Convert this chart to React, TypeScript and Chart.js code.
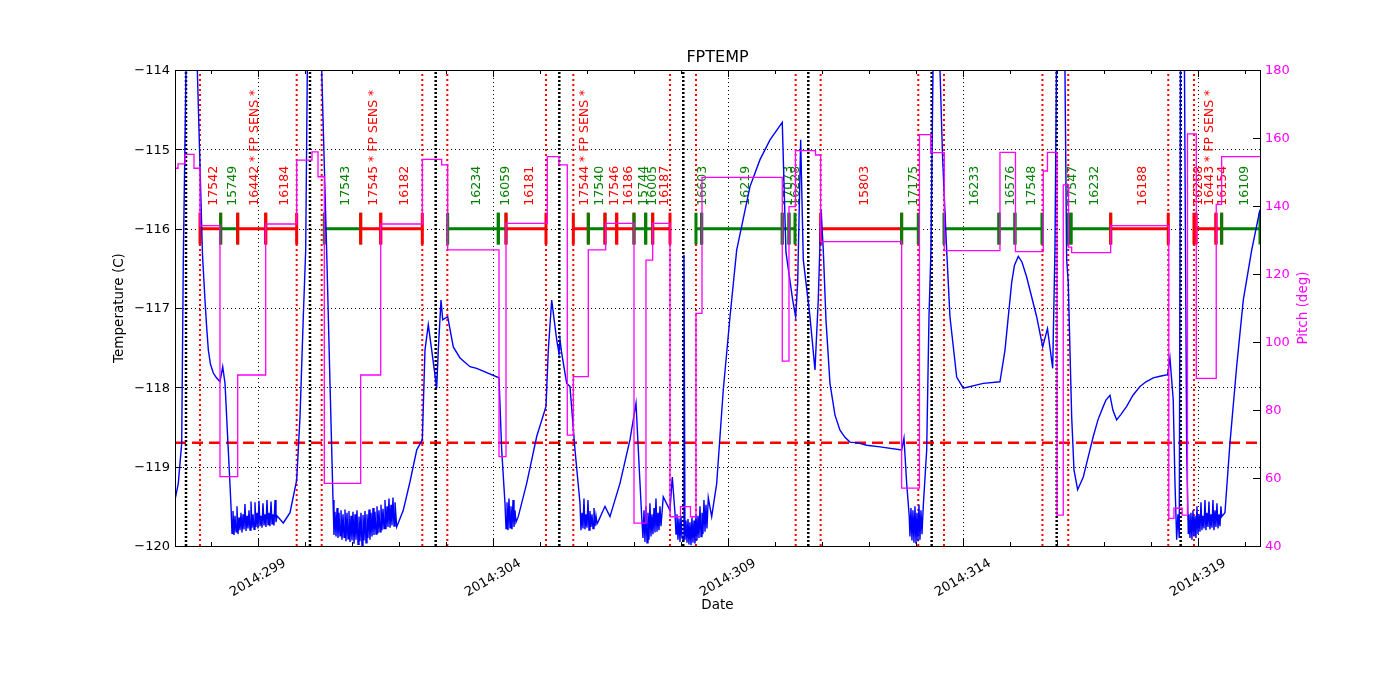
import { useEffect, useRef } from 'react';
import { Chart, registerables } from 'chart.js';
Chart.register(...registerables);

// ---- axis ranges & ticks ----
const dayMin = 297.234;
const dayMax = 320.32;
const tempMin = -120;
const tempMax = -114;
const pitchMin = 40;
const pitchMax = 180;
const tempTicks = [-120, -119, -118, -117, -116, -115, -114];
const pitchTicks = [40, 60, 80, 100, 120, 140, 160, 180];
const dateMajorTicks = [299, 304, 309, 314, 319];
const dateMinorTicks = [298, 299, 300, 301, 302, 303, 304, 305, 306, 307, 308, 309, 310, 311, 312, 313, 314, 315, 316, 317, 318, 319, 320];
const dateYear = '2014';
const planningLimit = -118.7;

// ---- radiation zone markers (day of year) ----
const radBoundaryDays = [297.766, 299.823, 300.355, 302.496, 303.028, 305.128, 305.709, 307.766, 308.319, 310.44, 310.972, 313.049, 313.596, 315.691, 316.24, 318.368, 318.915];
const perigeeDays = [297.468, 300.106, 302.781, 305.411, 308.049, 310.709, 313.334, 315.994, 318.632];

// ---- observations ----
const obsStart = [297.766, 298.206, 298.568, 299.164, 300.411, 301.185, 301.611, 303.036, 304.113, 304.277, 305.709, 306.028, 306.383, 306.632, 307.0, 307.249, 307.398, 308.319, 308.44, 310.155, 310.298, 310.972, 312.695, 313.596, 314.766, 315.106, 316.245, 316.298, 317.143, 318.915, 318.957, 319.383, 319.504];
const obsEnd = [298.206, 298.568, 299.164, 299.823, 301.185, 301.611, 302.496, 304.113, 304.277, 305.128, 306.028, 306.383, 306.632, 307.0, 307.249, 307.398, 307.766, 308.44, 310.155, 310.298, 310.426, 312.695, 313.049, 314.766, 315.106, 315.681, 316.298, 317.143, 318.368, 318.957, 319.383, 319.504, 320.32];
const obsLabels = ['17542', '15749', '16442 * FP SENS *', '16184', '17543', '17545 * FP SENS *', '16182', '16234', '16059', '16181', '17544 * FP SENS *', '17540', '17546', '16186', '15744', '16005', '16187', '16603', '16219', '17073', '16228', '15803', '17175', '16233', '16576', '17548', '17547', '16232', '16188', '16268', '16443 * FP SENS *', '16154', '16109'];
const obsHot = [1, 0, 1, 1, 0, 1, 1, 0, 0, 1, 1, 0, 1, 1, 0, 0, 1, 0, 0, 0, 0, 1, 0, 0, 0, 0, 0, 0, 1, 1, 1, 1, 0];
const obsLevel = -116;

// ---- pitch (deg), step changes ----
const pitchDays = [297.234, 297.298, 297.447, 297.638, 297.766, 298.191, 298.568, 299.164, 299.823, 300.149, 300.277, 300.411, 301.185, 301.611, 302.496, 302.908, 303.036, 304.128, 304.277, 305.155, 305.404, 305.581, 305.709, 306.028, 306.398, 307.0, 307.255, 307.398, 307.766, 307.989, 308.202, 308.319, 308.447, 310.155, 310.298, 310.436, 310.862, 310.972, 312.695, 313.074, 313.313, 313.602, 314.787, 315.117, 315.708, 315.798, 316.0, 316.134, 316.245, 316.313, 317.143, 318.379, 318.489, 318.664, 318.777, 318.964, 319.389, 319.504, 320.32];
const pitchValues = [151.1, 152.4, 155.2, 151.1, 134.2, 60.4, 90.3, 134.7, 153.5, 155.9, 148.6, 58.4, 90.3, 134.7, 153.7, 152.1, 127.1, 66.3, 134.9, 154.5, 152.1, 72.6, 89.8, 127.1, 134.9, 46.7, 124.1, 134.9, 48.6, 51.6, 48.6, 108.4, 148.4, 94.4, 139.8, 156.3, 155.0, 129.5, 57.0, 161.0, 155.7, 126.9, 155.8, 126.6, 150.3, 155.8, 49.1, 146.2, 127.9, 126.3, 134.2, 48.1, 51.1, 49.1, 161.2, 89.3, 140.5, 154.5, 154.5];

// ---- FPTEMP readings [day, degC] ----
const fptempReadings: [number, number][] = [
  [297.234, -119.42], [297.304, -119.21], [297.377, -118.7], [297.411, -116.39], [297.468, -114.0], [297.553, -113.3], [297.66, -113.6], [297.709, -114.0], [297.819, -116.33], [297.872, -116.9],
  [297.904, -117.21], [297.943, -117.53], [297.989, -117.71], [298.049, -117.82], [298.117, -117.88], [298.191, -117.93], [298.249, -117.74], [298.298, -117.95], [298.368, -118.79], [298.426, -119.5],
  [298.447, -119.84], [298.468, -119.56], [298.489, -119.86], [298.511, -119.62], [298.532, -119.82], [298.553, -119.5], [298.574, -119.85], [298.596, -119.64], [298.617, -119.8], [298.638, -119.58],
  [298.66, -119.83], [298.681, -119.6], [298.702, -119.79], [298.723, -119.47], [298.745, -119.81], [298.766, -119.62], [298.787, -119.78], [298.809, -119.55], [298.83, -119.8], [298.851, -119.44],
  [298.872, -119.77], [298.894, -119.6], [298.915, -119.79], [298.936, -119.45], [298.957, -119.76], [298.979, -119.58], [299.0, -119.78], [299.021, -119.43], [299.043, -119.75], [299.064, -119.62],
  [299.085, -119.77], [299.106, -119.46], [299.128, -119.74], [299.149, -119.6], [299.17, -119.76], [299.191, -119.42], [299.213, -119.73], [299.234, -119.58], [299.255, -119.75], [299.277, -119.44],
  [299.298, -119.72], [299.319, -119.6], [299.34, -119.74], [299.362, -119.42], [299.383, -119.7], [299.404, -119.62],
  [299.538, -119.71], [299.681, -119.58], [299.823, -119.17], [299.894, -118.37], [299.964, -117.11], [300.015, -116.27], [300.049, -114.0], [300.085, -113.5], [300.319, -113.5], [300.355, -114.0], [300.462, -116.3], [300.532, -117.95], [300.596, -119.42],
  [300.617, -119.86], [300.638, -119.57], [300.66, -119.88], [300.681, -119.52], [300.702, -119.9], [300.723, -119.58], [300.745, -119.87], [300.766, -119.55], [300.787, -119.92], [300.809, -119.6],
  [300.83, -119.89], [300.851, -119.54], [300.872, -119.94], [300.894, -119.58], [300.915, -119.91], [300.936, -119.56], [300.957, -119.95], [300.979, -119.62], [301.0, -119.93], [301.021, -119.57],
  [301.043, -119.97], [301.064, -119.6], [301.085, -119.92], [301.106, -119.55], [301.128, -119.98], [301.149, -119.63], [301.17, -119.94], [301.191, -119.58], [301.213, -119.99], [301.234, -119.61],
  [301.255, -119.93], [301.277, -119.56], [301.298, -119.96], [301.319, -119.6], [301.34, -119.9], [301.362, -119.54], [301.383, -119.92], [301.404, -119.58], [301.426, -119.88], [301.447, -119.52],
  [301.468, -119.86], [301.489, -119.57], [301.511, -119.85], [301.532, -119.5], [301.553, -119.84], [301.574, -119.55], [301.596, -119.82], [301.617, -119.48], [301.638, -119.8], [301.66, -119.53],
  [301.681, -119.78], [301.702, -119.42], [301.723, -119.79], [301.745, -119.5], [301.766, -119.76], [301.787, -119.4], [301.809, -119.77], [301.83, -119.48], [301.851, -119.74], [301.872, -119.39],
  [301.894, -119.75], [301.915, -119.45],
  [301.951, -119.76], [302.091, -119.55], [302.234, -119.19], [302.377, -118.79], [302.496, -118.66], [302.553, -117.53], [302.623, -117.21], [302.696, -117.53], [302.802, -118.01], [302.836, -117.53],
  [302.894, -116.9], [302.93, -117.15], [303.036, -117.11], [303.155, -117.49], [303.298, -117.63], [303.511, -117.74], [303.653, -117.76], [304.128, -117.88], [304.185, -118.79], [304.255, -119.46],
  [304.277, -119.78], [304.298, -119.45], [304.319, -119.8], [304.34, -119.4], [304.362, -119.77], [304.383, -119.5], [304.404, -119.79], [304.426, -119.42], [304.447, -119.76], [304.468, -119.55], [304.489, -119.7],
  [304.538, -119.63], [304.717, -119.21], [304.93, -118.62], [305.128, -118.24], [305.177, -117.53], [305.249, -116.9], [305.355, -117.4], [305.404, -117.57], [305.426, -117.4], [305.462, -117.57],
  [305.568, -117.95], [305.638, -117.99], [305.745, -118.79], [305.851, -119.46],
  [305.872, -119.8], [305.894, -119.58], [305.915, -119.78], [305.936, -119.4], [305.957, -119.79], [305.979, -119.6], [306.0, -119.77], [306.021, -119.42], [306.043, -119.8], [306.064, -119.56],
  [306.085, -119.76], [306.106, -119.6], [306.128, -119.78], [306.149, -119.52], [306.17, -119.75], [306.191, -119.62], [306.213, -119.72],
  [306.24, -119.69], [306.383, -119.5], [306.489, -119.63], [306.702, -119.21], [306.915, -118.66], [307.043, -118.2], [307.128, -119.21], [307.164, -119.63],
  [307.191, -119.9], [307.213, -119.55], [307.234, -119.95], [307.255, -119.5], [307.277, -119.96], [307.298, -119.58], [307.319, -119.92], [307.34, -119.46], [307.362, -119.88], [307.383, -119.6],
  [307.404, -119.85], [307.426, -119.52], [307.447, -119.83], [307.468, -119.4], [307.489, -119.82], [307.511, -119.58], [307.532, -119.8], [307.553, -119.5], [307.574, -119.75],
  [307.623, -119.38], [307.766, -119.55], [307.815, -119.13], [307.872, -119.58],
  [307.894, -119.85], [307.915, -119.6], [307.936, -119.92], [307.957, -119.65], [307.979, -119.95], [308.0, -119.62], [308.021, -119.9],
  [308.049, -119.92], [308.064, -116.33], [308.085, -119.92],
  [308.106, -119.68], [308.128, -119.96], [308.149, -119.66], [308.17, -119.98], [308.191, -119.7], [308.213, -119.99], [308.234, -119.64], [308.255, -119.96], [308.277, -119.68], [308.298, -119.97],
  [308.319, -119.6], [308.34, -119.93], [308.362, -119.62], [308.383, -119.9], [308.404, -119.5], [308.426, -119.88], [308.447, -119.58], [308.468, -119.85], [308.489, -119.42], [308.511, -119.82],
  [308.532, -119.48], [308.553, -119.78],
  [308.581, -119.39], [308.653, -119.63], [308.76, -119.21], [308.9, -118.03], [309.043, -117.11], [309.185, -116.27], [309.468, -115.47], [309.681, -115.13], [309.894, -114.88], [310.155, -114.66],
  [310.234, -116.3], [310.377, -116.9], [310.44, -117.11], [310.483, -116.68], [310.547, -114.88], [310.602, -116.39], [310.745, -117.11], [310.851, -117.78], [310.921, -116.9], [310.979, -115.76],
  [311.028, -116.27], [311.085, -117.15], [311.17, -117.95], [311.277, -118.35], [311.383, -118.54], [311.489, -118.63], [311.596, -118.69], [311.766, -118.7], [311.951, -118.73], [312.234, -118.75],
  [312.696, -118.79], [312.745, -118.64], [312.802, -119.21], [312.857, -119.63],
  [312.872, -119.88], [312.894, -119.52], [312.915, -119.93], [312.936, -119.55], [312.957, -119.96], [312.979, -119.5], [313.0, -119.97], [313.021, -119.58], [313.043, -119.94], [313.064, -119.48],
  [313.085, -119.92], [313.106, -119.55], [313.128, -119.85],
  [313.155, -119.5], [313.228, -118.79], [313.277, -117.11], [313.319, -116.27], [313.362, -114.0], [313.404, -113.5], [313.468, -113.5], [313.511, -114.0], [313.568, -115.13], [313.653, -116.27],
  [313.723, -117.11], [313.866, -117.87], [314.006, -118.01], [314.432, -117.95], [314.787, -117.93], [314.894, -117.53], [315.036, -116.68], [315.096, -116.46], [315.177, -116.35], [315.255, -116.42],
  [315.355, -116.61], [315.568, -117.11], [315.696, -117.49], [315.798, -117.26], [315.909, -117.76], [315.957, -116.27], [315.989, -114.0], [316.021, -113.5], [316.128, -113.5], [316.17, -114.0],
  [316.206, -116.39], [316.24, -116.68], [316.313, -118.37], [316.362, -119.04], [316.44, -119.29], [316.56, -119.13], [316.66, -118.89], [316.772, -118.62], [316.872, -118.41], [316.985, -118.24],
  [317.043, -118.16], [317.128, -118.1], [317.191, -118.29], [317.27, -118.41], [317.362, -118.34], [317.483, -118.24], [317.617, -118.1], [317.766, -117.99], [317.894, -117.93], [318.049, -117.88],
  [318.191, -117.86], [318.355, -117.84], [318.404, -117.63], [318.474, -118.16], [318.511, -119.21], [318.547, -119.92], [318.574, -119.6], [318.602, -119.9], [318.628, -114.0], [318.649, -113.5],
  [318.691, -113.5], [318.713, -114.0], [318.76, -118.79], [318.794, -119.84],
  [318.809, -119.6], [318.83, -119.9], [318.851, -119.58], [318.872, -119.92], [318.894, -119.55], [318.915, -119.88], [318.936, -119.62], [318.957, -119.9], [318.979, -119.5], [319.0, -119.85],
  [319.021, -119.6], [319.043, -119.82], [319.064, -119.45], [319.085, -119.8], [319.106, -119.62], [319.128, -119.78], [319.149, -119.42], [319.17, -119.8], [319.191, -119.58], [319.213, -119.76],
  [319.234, -119.44], [319.255, -119.79], [319.277, -119.6], [319.298, -119.77], [319.319, -119.42], [319.34, -119.8], [319.362, -119.55], [319.383, -119.76], [319.404, -119.46], [319.426, -119.78],
  [319.447, -119.6], [319.468, -119.75], [319.489, -119.5],
  [319.504, -119.63], [319.574, -119.58], [319.681, -118.7], [319.823, -117.74], [319.964, -116.9], [320.143, -116.27], [320.319, -115.76],
];

const FONT = "'DejaVu Sans', 'Liberation Sans', sans-serif";
const RED = '#ff0000';
const GREEN = '#007f00';
const BLUE = '#0000ff';
const MAGENTA = '#ff00ff';

type Pt = { x: number; y: number | null };

function verticalLines(days: number[], lo: number, hi: number): Pt[] {
  const out: Pt[] = [];
  for (const d of days) {
    out.push({ x: d, y: lo }, { x: d, y: hi }, { x: d, y: null });
  }
  return out;
}

function obsSegments(hot: number): Pt[] {
  const out: Pt[] = [];
  for (let i = 0; i < obsStart.length; i++) {
    if (obsHot[i] !== hot) continue;
    out.push({ x: obsStart[i], y: obsLevel }, { x: obsEnd[i], y: obsLevel }, { x: obsEnd[i], y: null });
  }
  return out;
}

function obsBars(hot: number, which: 'start' | 'end'): Pt[] {
  const out: Pt[] = [];
  for (let i = 0; i < obsStart.length; i++) {
    if (obsHot[i] !== hot) continue;
    const d = which === 'start' ? obsStart[i] : obsEnd[i];
    out.push({ x: d, y: obsLevel - 0.2 }, { x: d, y: obsLevel + 0.2 }, { x: d, y: null });
  }
  return out;
}

const mplPlugin = {
  id: 'mplAxes',
  beforeDraw(chart: any) {
    const { ctx, width, height } = chart;
    ctx.save();
    ctx.fillStyle = '#ffffff';
    ctx.fillRect(0, 0, width, height);
    ctx.restore();
  },
  beforeDatasetsDraw(chart: any) {
    const { ctx, chartArea: a, scales } = chart;
    const xs = scales.x;
    const ys = scales.y;
    ctx.save();
    ctx.strokeStyle = '#000000';
    ctx.lineWidth = 1;
    ctx.setLineDash([1, 3]);
    for (const d of dateMajorTicks) {
      const px = Math.round(xs.getPixelForValue(d)) + 0.5;
      ctx.beginPath();
      ctx.moveTo(px, a.top);
      ctx.lineTo(px, a.bottom);
      ctx.stroke();
    }
    for (const t of tempTicks) {
      if (t === tempMin || t === tempMax) continue;
      const py = Math.round(ys.getPixelForValue(t)) + 0.5;
      ctx.beginPath();
      ctx.moveTo(a.left, py);
      ctx.lineTo(a.right, py);
      ctx.stroke();
    }
    ctx.setLineDash([]);
    ctx.font = `12.5px ${FONT}`;
    ctx.textAlign = 'left';
    ctx.textBaseline = 'middle';
    const baseY = ys.getPixelForValue(obsLevel) - 23;
    for (let i = 0; i < obsStart.length; i++) {
      const cx = (xs.getPixelForValue(obsStart[i]) + xs.getPixelForValue(obsEnd[i])) / 2 + 3.5;
      ctx.save();
      ctx.translate(cx, baseY);
      ctx.rotate(-Math.PI / 2);
      ctx.fillStyle = obsHot[i] ? RED : GREEN;
      ctx.fillText(obsLabels[i], 0, 0);
      ctx.restore();
    }
    ctx.restore();
  },
  afterDatasetsDraw(chart: any) {
    const { ctx, chartArea: a, scales } = chart;
    const xs = scales.x;
    const ys = scales.y;
    const y2 = scales.y2;
    ctx.save();
    ctx.setLineDash([]);
    ctx.strokeStyle = '#000000';
    ctx.lineWidth = 1;
    ctx.beginPath();
    for (const d of dateMinorTicks) {
      const major = dateMajorTicks.includes(d);
      const len = major ? 7 : 4;
      const px = Math.round(xs.getPixelForValue(d)) + 0.5;
      ctx.moveTo(px, a.bottom);
      ctx.lineTo(px, a.bottom - len);
      ctx.moveTo(px, a.top);
      ctx.lineTo(px, a.top + len);
    }
    for (const t of tempTicks) {
      const py = Math.round(ys.getPixelForValue(t)) + 0.5;
      ctx.moveTo(a.left, py);
      ctx.lineTo(a.left + 7, py);
    }
    for (const p of pitchTicks) {
      const py = Math.round(y2.getPixelForValue(p)) + 0.5;
      ctx.moveTo(a.right, py);
      ctx.lineTo(a.right - 7, py);
    }
    ctx.stroke();
    ctx.strokeRect(Math.round(a.left) + 0.5, Math.round(a.top) + 0.5, Math.round(a.right - a.left), Math.round(a.bottom - a.top));

    ctx.font = `13px ${FONT}`;
    ctx.fillStyle = '#000000';
    ctx.textAlign = 'right';
    ctx.textBaseline = 'middle';
    for (const t of tempTicks) {
      const label = t < 0 ? '\u2212' + Math.abs(t) : String(t);
      ctx.fillText(label, a.left - 5, ys.getPixelForValue(t) + 1);
    }
    ctx.fillStyle = MAGENTA;
    ctx.textAlign = 'left';
    for (const p of pitchTicks) {
      ctx.fillText(String(p), a.right + 5, y2.getPixelForValue(p) + 1);
    }
    ctx.fillStyle = '#000000';
    ctx.textAlign = 'center';
    for (const d of dateMajorTicks) {
      ctx.save();
      ctx.translate(xs.getPixelForValue(d), a.bottom + 32);
      ctx.rotate(-Math.PI / 6);
      ctx.fillText(`${dateYear}:${d}`, 0, 0);
      ctx.restore();
    }
    const cx = (a.left + a.right) / 2;
    const cy = (a.top + a.bottom) / 2;
    ctx.font = `13.5px ${FONT}`;
    ctx.fillText('Date', cx, a.bottom + 59);
    ctx.save();
    ctx.translate(a.left - 56, cy);
    ctx.rotate(-Math.PI / 2);
    ctx.fillText('Temperature (C)', 0, 0);
    ctx.restore();
    ctx.save();
    ctx.fillStyle = MAGENTA;
    ctx.translate(a.right + 43, cy);
    ctx.rotate(-Math.PI / 2);
    ctx.fillText('Pitch (deg)', 0, 0);
    ctx.restore();
    ctx.font = `16px ${FONT}`;
    ctx.fillText('FPTEMP', cx, a.top - 12);
    ctx.restore();
  },
};

export default function App() {
  const canvasRef = useRef<HTMLCanvasElement | null>(null);

  useEffect(() => {
    const canvas = canvasRef.current;
    if (!canvas) return;
    const base = { pointRadius: 0, pointHoverRadius: 0, fill: false, tension: 0, spanGaps: false };
    const chart = new Chart(canvas, {
      type: 'line',
      data: {
        datasets: [
          { ...base, label: 'radiation zone', data: verticalLines(radBoundaryDays, tempMin, tempMax), borderColor: RED, borderWidth: 2, borderDash: [2, 3], borderCapStyle: 'butt', yAxisID: 'y', order: 9 },
          { ...base, label: 'perigee', data: verticalLines(perigeeDays, tempMin, tempMax), borderColor: '#000000', borderWidth: 2.5, borderDash: [2, 2], borderCapStyle: 'butt', yAxisID: 'y', order: 8 },
          {
            ...base,
            label: 'planning limit',
            data: [
              { x: dayMin, y: planningLimit },
              { x: dayMax, y: planningLimit },
            ],
            borderColor: RED,
            borderWidth: 2.5,
            borderDash: [11, 6],
            yAxisID: 'y',
            order: 7,
          },
          { ...base, label: 'obs hot', data: obsSegments(1), borderColor: RED, borderWidth: 3, yAxisID: 'y', order: 6 },
          { ...base, label: 'obs cold', data: obsSegments(0), borderColor: GREEN, borderWidth: 3, yAxisID: 'y', order: 6 },
          { ...base, label: 'obs end hot', data: obsBars(1, 'end'), borderColor: RED, borderWidth: 3, yAxisID: 'y', order: 5 },
          { ...base, label: 'obs end cold', data: obsBars(0, 'end'), borderColor: GREEN, borderWidth: 3, yAxisID: 'y', order: 5 },
          { ...base, label: 'obs start hot', data: obsBars(1, 'start'), borderColor: RED, borderWidth: 3, yAxisID: 'y', order: 4 },
          { ...base, label: 'obs start cold', data: obsBars(0, 'start'), borderColor: GREEN, borderWidth: 3, yAxisID: 'y', order: 4 },
          { ...base, label: 'FPTEMP', data: fptempReadings.map(([d, t]) => ({ x: d, y: t })), borderColor: BLUE, borderWidth: 1.4, yAxisID: 'y', order: 2 },
          { ...base, label: 'Pitch', data: pitchDays.map((d, i) => ({ x: d, y: pitchValues[i] })), borderColor: MAGENTA, borderWidth: 1.3, stepped: true, yAxisID: 'y2', order: 1 },
        ] as any,
      },
      options: {
        animation: false,
        responsive: false,
        maintainAspectRatio: false,
        devicePixelRatio: 1,
        events: [],
        layout: { padding: { left: 175, right: 140, top: 70, bottom: 154 } },
        plugins: {
          legend: { display: false },
          tooltip: { enabled: false },
          title: { display: false },
        },
        scales: {
          x: { type: 'linear', min: dayMin, max: dayMax, display: false },
          y: { type: 'linear', min: tempMin, max: tempMax, display: false },
          y2: { type: 'linear', min: pitchMin, max: pitchMax, display: false, position: 'right' },
        },
      } as any,
      plugins: [mplPlugin],
    });
    return () => chart.destroy();
  }, []);

  return (
    <div style={{ position: 'absolute', left: 0, top: 0, width: 1400, height: 700, background: '#ffffff' }}>
      <canvas ref={canvasRef} width={1400} height={700} style={{ display: 'block', width: 1400, height: 700 }} />
    </div>
  );
}
